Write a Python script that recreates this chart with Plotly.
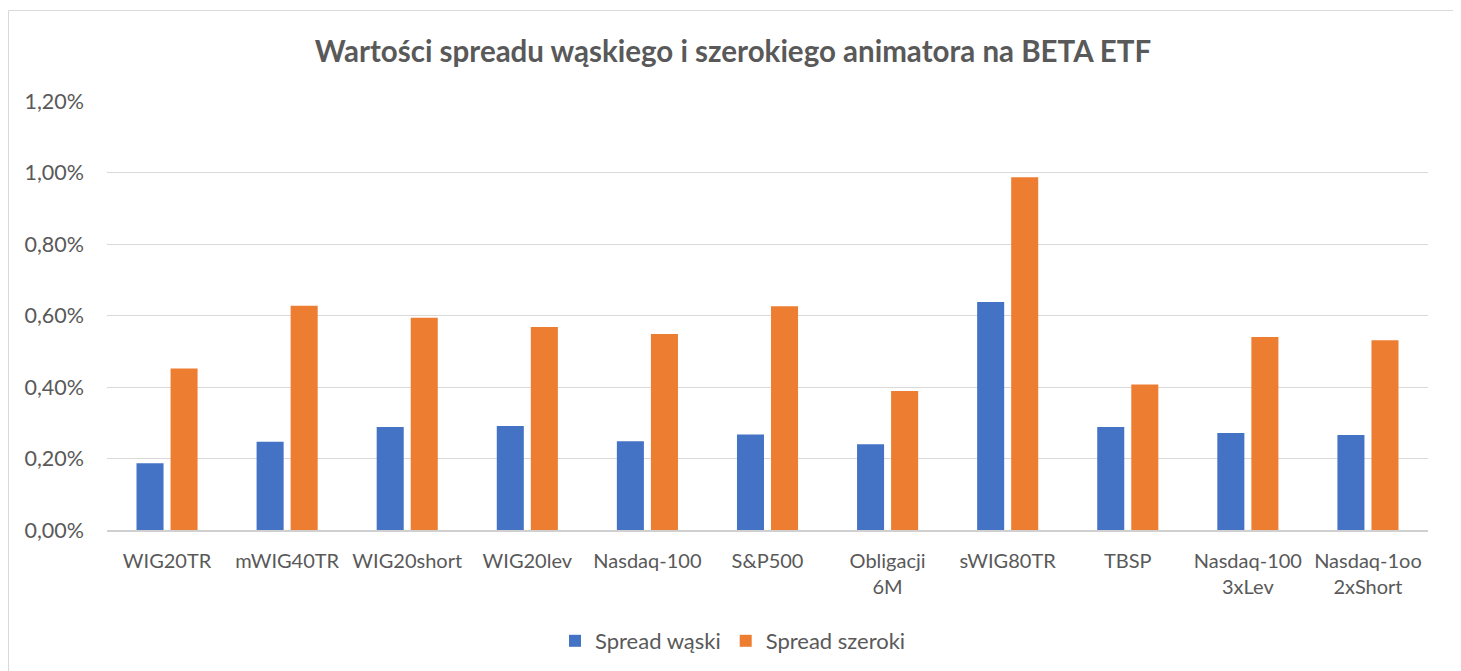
import plotly.graph_objects as go

categories = ["WIG20TR", "mWIG40TR", "WIG20short", "WIG20lev", "Nasdaq-100", "S&P500",
              "Obligacji<br>6M", "sWIG80TR", "TBSP", "Nasdaq-100<br>3xLev", "Nasdaq-1oo<br>2xShort"]
spread_waski = [0.00187, 0.00247, 0.00288, 0.00291, 0.00248, 0.00267, 0.00240, 0.00638, 0.00288, 0.00271, 0.00266]
spread_szeroki = [0.00452, 0.00627, 0.00594, 0.00568, 0.00548, 0.00626, 0.00389, 0.00987, 0.00407, 0.00540, 0.00531]
y_ticks = [0, 0.002, 0.004, 0.006, 0.008, 0.010, 0.012]

OFF = 8  # page body margin
W, H = 1461 - OFF, 671 - OFF
L, R, T, B = 107 - OFF, 1428 - OFF, 101 - OFF, 530 - OFF
TXT = "#595959"
FONT = "Lato"

fig = go.Figure()
fig.add_trace(go.Bar(name="Spread wąski", x=categories, y=spread_waski, marker_color="#4472C4",
                     marker_line_width=0))
fig.add_trace(go.Bar(name="Spread szeroki", x=categories, y=spread_szeroki, marker_color="#ED7D31",
                     marker_line_width=0))

def px(x):
    return (x - OFF - L) / (R - L)

def py(y):
    return (B - (y - OFF)) / (B - T)

fig.add_shape(type="rect", xref="paper", yref="paper",
              x0=px(8.5), x1=px(1457), y0=py(700), y1=py(10.5),
              line=dict(color="#D9D9D9", width=1), fillcolor="rgba(0,0,0,0)", layer="below")

fig.update_layout(
    width=W, height=H,
    margin=dict(l=L, r=W - R, t=T, b=H - B, autoexpand=False),
    paper_bgcolor="white", plot_bgcolor="white",
    separators=", ",
    barmode="group", bargap=0.433, bargroupgap=0.206,
    title=dict(text="<b>Wartości spreadu wąskiego i szerokiego animatora na BETA ETF</b>",
               x=(733 - OFF) / W, xanchor="center", xref="container",
               y=1 - (52 - OFF) / H, yanchor="middle", yref="container",
               font=dict(family=FONT, size=29.5, color=TXT)),
    font=dict(family=FONT, size=20, color=TXT),
    showlegend=True,
    legend=dict(orientation="h", x=px(733), xanchor="center", y=py(641), yanchor="middle",
                font=dict(family=FONT, size=22, color=TXT), itemwidth=30,
                traceorder="normal"),
    xaxis=dict(showgrid=False, showline=True, linecolor="#D0D0D0", linewidth=2,
               ticks="", tickfont=dict(family=FONT, size=20, color=TXT), ticklabelstandoff=12,
               fixedrange=True),
    yaxis=dict(range=[0, 0.012], tickvals=y_ticks, tickformat=".2%", showgrid=True,
               gridcolor="#D9D9D9", gridwidth=1.2, zeroline=False, showline=False, ticks="",
               tickfont=dict(family=FONT, size=21.5, color=TXT), ticklabelstandoff=22,
               fixedrange=True),
)

fig.write_html("out.html")
